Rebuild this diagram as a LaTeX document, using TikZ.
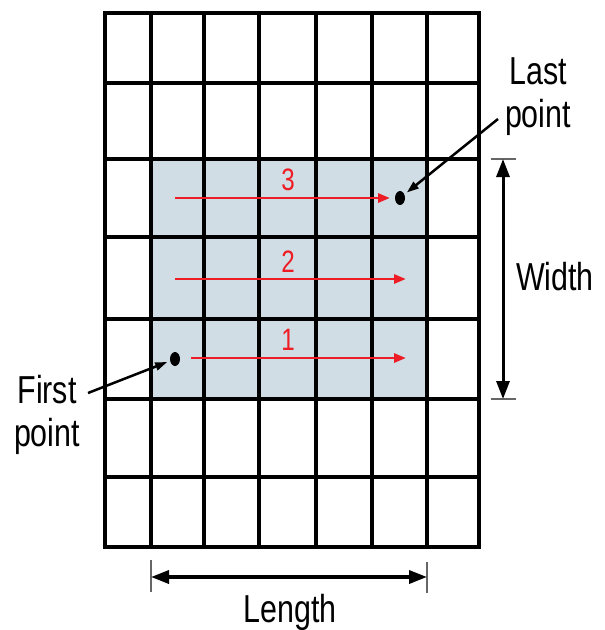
\documentclass[tikz,border=0pt]{standalone}
\usepackage{fontspec}
\setmainfont{Liberation Sans}[FakeStretch=0.78]
\usetikzlibrary{arrows.meta,shapes.geometric}
\definecolor{shadefill}{HTML}{D1DDE4}
\definecolor{pathred}{HTML}{EE1C24}
\tikzset{
  gridline/.style={line width=3.2pt, black},
  border/.style={line width=4.2pt, black},
  redarrow/.style={line width=2.8pt, pathred, -{Triangle[length=12pt,width=9pt]}},
  redlabel/.style={text=pathred, font=\fontsize{31}{32}\selectfont, inner sep=0pt},
  dot/.style={ellipse, fill=black, minimum width=10pt, minimum height=14pt, inner sep=0pt},
  bigtext/.style={font=\fontsize{39}{43}\selectfont, inner sep=0pt, align=center},
  leader/.style={line width=2.5pt, -{Triangle[length=12pt,width=8pt]}, shorten >=3pt},
  dimline/.style={line width=3.5pt, {Triangle[length=18pt,width=13pt]}-{Triangle[length=18pt,width=13pt]}},
  tick/.style={line width=1.2pt, gray!80!black},
}
\begin{document}
\begin{tikzpicture}[x=1pt,y=-1pt]
\useasboundingbox (0,0) rectangle (605,630);
% shaded area
\fill[shadefill] (151,159) rectangle (427,399);
% grid
\foreach \xx in {151,204,259,316,372,427} \draw[gridline] (\xx,13) -- (\xx,547);
\foreach \yy in {83,159,237,319,399,477} \draw[gridline] (105,\yy) -- (479,\yy);
\draw[border] (105,13) rectangle (479,547);
% red scan arrows
\coordinate (r3s) at (175,198); \coordinate (r3e) at (390,198);
\coordinate (r2s) at (175,279); \coordinate (r2e) at (406,279);
\coordinate (r1s) at (191,358); \coordinate (r1e) at (406,358);
\draw[redarrow] (r3s) -- (r3e);
\draw[redarrow] (r2s) -- (r2e);
\draw[redarrow] (r1s) -- (r1e);
\node[redlabel] (l3) at (288,180) {3};
\node[redlabel] (l2) at (288,262) {2};
\node[redlabel] (l1) at (288,340) {1};
% points
\node[dot] (last) at (400,198) {};
\node[dot] (first) at (175,359) {};
% labels
\node[bigtext] (lasttxt) at (538,97) {Last\\point};
\node[bigtext] (firsttxt) at (47,415) {First\\point};
\coordinate (lastlead) at (498,119);
\coordinate (firstlead) at (88,393);
\draw[leader] (lastlead) -- (last);
\draw[leader] (firstlead) -- (first);
% width dimension
\coordinate (wt1) at (491,159); \coordinate (wt2) at (516,159);
\coordinate (wb1) at (491,399); \coordinate (wb2) at (516,399);
\draw[tick] (wt1) -- (wt2);
\draw[tick] (wb1) -- (wb2);
\coordinate (wtop) at (503,159); \coordinate (wbot) at (503,399);
\draw[dimline, line width=3pt] (wtop) -- (wbot);
\node[bigtext] (widthtxt) at (555,277) {Width};
% length dimension
\coordinate (lt1) at (151,560); \coordinate (lt2) at (151,592);
\coordinate (rt1) at (427,562); \coordinate (rt2) at (427,593);
\draw[tick] (lt1) -- (lt2);
\draw[tick] (rt1) -- (rt2);
\coordinate (lleft) at (151,577); \coordinate (lright) at (427,577);
\draw[dimline] (lleft) -- (lright);
\node[bigtext] (lengthtxt) at (290,612) {Length};
\end{tikzpicture}
\end{document}
